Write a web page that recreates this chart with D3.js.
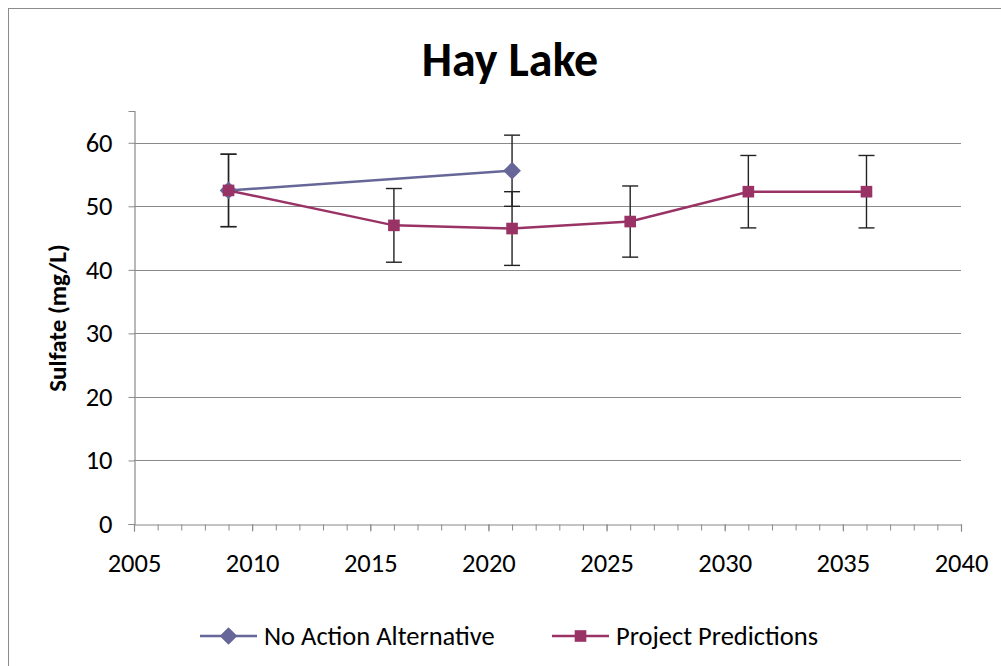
<!DOCTYPE html>
<html>
<head>
<meta charset="utf-8">
<script src="https://cdn.jsdelivr.net/npm/d3@7"></script>
<style>
  body { margin: 0; background: #fff; }
  svg { font-family: Carlito, Lato, sans-serif; }
</style>
</head>
<body>
<svg width="1001" height="666"></svg>
<script>
var years = [2009, 2016, 2021, 2026, 2031, 2036];
var project = [52.5, 47.0, 46.5, 47.6, 52.3, 52.3];
var projectErr = [5.7, 5.8, 5.8, 5.6, 5.7, 5.7];
var noActionYears = [2009, 2021];
var noAction = [52.5, 55.6];
var noActionErr = [5.7, 5.6];
var xTicks = [2005, 2010, 2015, 2020, 2025, 2030, 2035, 2040];
var yTicks = [0, 10, 20, 30, 40, 50, 60];

var svg = d3.select("svg");

// chart frame
svg.append("rect")
    .attr("x", 8.5).attr("y", 8.5)
    .attr("width", 1100).attr("height", 800)
    .attr("fill", "none").attr("stroke", "#8c8c8c").attr("stroke-width", 1);

var x = d3.scaleLinear().domain([2005, 2040]).range([134, 961]);
var y = d3.scaleLinear().domain([0, 65]).range([524, 111]);

// gridlines
svg.append("g").selectAll("line")
    .data(yTicks.filter(function(d) { return d > 0; }))
    .enter().append("line")
    .attr("x1", 134).attr("x2", 961)
    .attr("y1", function(d) { return Math.round(y(d)) + 0.5; })
    .attr("y2", function(d) { return Math.round(y(d)) + 0.5; })
    .attr("stroke", "#8a8a8a").attr("stroke-width", 1.2);

// y axis
var yAxis = svg.append("g")
    .attr("transform", "translate(134.5,0)")
    .call(d3.axisLeft(y).tickValues(yTicks).tickSize(6).tickPadding(16));
yAxis.select(".domain").attr("stroke", "#8a8a8a").attr("stroke-width", 1.2);
yAxis.selectAll(".tick line").attr("stroke", "#8a8a8a");
yAxis.selectAll("text").attr("font-size", "26.5px").attr("fill", "#000")
    .attr("font-family", "Carlito, Lato, sans-serif");

// x axis, minor ticks each year
var xAxisMinor = svg.append("g")
    .attr("transform", "translate(0,524.5)")
    .call(d3.axisBottom(x).ticks(35).tickSize(6).tickFormat(""));
xAxisMinor.select(".domain").remove();
xAxisMinor.selectAll(".tick line").attr("stroke", "#8a8a8a");

var xAxis = svg.append("g")
    .attr("transform", "translate(0,524.5)")
    .call(d3.axisBottom(x).tickValues(xTicks).tickSize(7).tickPadding(22)
          .tickFormat(d3.format("d")));
xAxis.select(".domain").attr("stroke", "#8a8a8a").attr("stroke-width", 1.2);
xAxis.selectAll(".tick line").attr("stroke", "#8a8a8a");
xAxis.selectAll("text").attr("font-size", "26.5px").attr("fill", "#000")
    .attr("font-family", "Carlito, Lato, sans-serif");

// titles
svg.append("text")
    .attr("x", 510).attr("y", 76)
    .attr("text-anchor", "middle")
    .attr("font-size", "48px").attr("font-weight", "bold")
    .text("Hay Lake");

svg.append("text")
    .attr("transform", "translate(66,318) rotate(-90)")
    .attr("text-anchor", "middle")
    .attr("font-size", "25px").attr("font-weight", "bold")
    .text("Sulfate (mg/L)");

var noActionColor = "#666699",
    projectColor = "#993366";

var noActionData = noActionYears.map(function(d, i) {
  return { x: d, y: noAction[i], e: noActionErr[i] };
});
var projectData = years.map(function(d, i) {
  return { x: d, y: project[i], e: projectErr[i] };
});

var line = d3.line()
    .x(function(d) { return x(d.x); })
    .y(function(d) { return y(d.y); });

function errorBars(data) {
  var g = svg.append("g").attr("stroke", "#222").attr("stroke-width", 1.4);
  g.selectAll(".v").data(data).enter().append("line")
      .attr("x1", function(d) { return x(d.x); })
      .attr("x2", function(d) { return x(d.x); })
      .attr("y1", function(d) { return y(d.y + d.e); })
      .attr("y2", function(d) { return y(d.y - d.e); });
  [1, -1].forEach(function(s) {
    g.selectAll(".c" + s).data(data).enter().append("line")
        .attr("x1", function(d) { return x(d.x) - 8; })
        .attr("x2", function(d) { return x(d.x) + 8; })
        .attr("y1", function(d) { return y(d.y + s * d.e); })
        .attr("y2", function(d) { return y(d.y + s * d.e); });
  });
}

errorBars(noActionData);
errorBars(projectData);

svg.append("path").datum(noActionData)
    .attr("d", line).attr("fill", "none")
    .attr("stroke", noActionColor).attr("stroke-width", 2.5);

var diamond = d3.symbol().type(d3.symbolDiamond2).size(200);
var square = d3.symbol().type(d3.symbolSquare).size(135);

svg.selectAll(".na").data(noActionData).enter().append("path")
    .attr("transform", function(d) { return "translate(" + x(d.x) + "," + y(d.y) + ")"; })
    .attr("d", diamond).attr("fill", noActionColor);

svg.append("path").datum(projectData)
    .attr("d", line).attr("fill", "none")
    .attr("stroke", projectColor).attr("stroke-width", 2.5);

svg.selectAll(".pp").data(projectData).enter().append("path")
    .attr("transform", function(d) { return "translate(" + x(d.x) + "," + y(d.y) + ")"; })
    .attr("d", square).attr("fill", projectColor);

// legend
var legendItems = [
  { name: "No Action Alternative", color: noActionColor, sym: diamond, x: 200 },
  { name: "Project Predictions", color: projectColor, sym: square, x: 552 }
];
var legend = svg.selectAll(".legend").data(legendItems).enter().append("g")
    .attr("class", "legend")
    .attr("transform", function(d) { return "translate(" + d.x + ",636)"; });
legend.append("line")
    .attr("x1", 0).attr("x2", 57)
    .attr("stroke", function(d) { return d.color; }).attr("stroke-width", 2.5);
legend.append("path")
    .attr("transform", "translate(28.5,0)")
    .attr("d", function(d) { return d.sym(); })
    .attr("fill", function(d) { return d.color; });
legend.append("text")
    .attr("x", 64).attr("dy", "0.35em")
    .attr("font-size", "26.5px")
    .text(function(d) { return d.name; });
</script>
</body>
</html>
